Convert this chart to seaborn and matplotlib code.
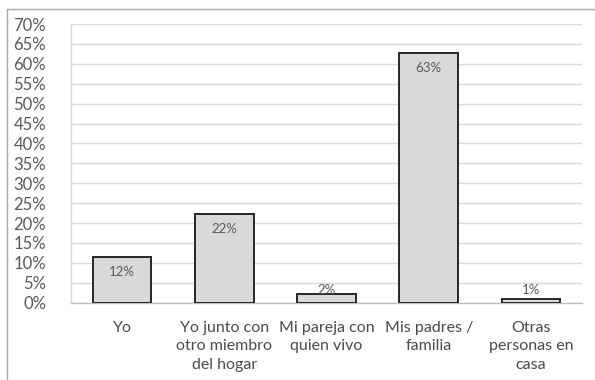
import matplotlib
matplotlib.use("Agg")
import matplotlib.pyplot as plt
from matplotlib.lines import Line2D
from matplotlib.ticker import MultipleLocator, FuncFormatter
import seaborn as sns
import pandas as pd

categories = [
    "Yo",
    "Yo junto con\notro miembro\ndel hogar",
    "Mi pareja con\nquien vivo",
    "Mis padres /\nfamilia",
    "Otras\npersonas en\ncasa",
]
shares = [11.6, 22.4, 2.1, 62.8, 0.9]

df = pd.DataFrame({"categoria": categories, "porcentaje": shares})

sns.set_theme(style="white")
plt.rcParams["font.family"] = ["Lato", "DejaVu Sans"]

fig = plt.figure(figsize=(5.95, 3.8), dpi=100)
ax = fig.add_axes([71 / 595, (380 - 302.7) / 380, (582 - 71) / 595, (302.7 - 24) / 380])

sns.barplot(
    data=df, x="categoria", y="porcentaje", ax=ax,
    color="#d9d9d9", edgecolor="#262626", linewidth=1.4,
    width=0.575, saturation=1, zorder=3,
)

ax.set_ylim(0, 70)
ax.set_xlim(-0.5, len(categories) - 0.5)
ax.yaxis.set_major_locator(MultipleLocator(5))
ax.yaxis.set_major_formatter(FuncFormatter(lambda v, _: f"{v:.0f}%"))
ax.grid(axis="y", color="#d9d9d9", linewidth=1.0, zorder=0)
ax.set_axisbelow(True)
ax.set_xlabel("")
ax.set_ylabel("")

for side in ("top", "right"):
    ax.spines[side].set_visible(False)
ax.spines["left"].set_color("#d9d9d9")
ax.spines["bottom"].set_color("#bfbfbf")
ax.spines["left"].set_linewidth(1.0)
ax.spines["bottom"].set_linewidth(1.0)

ax.tick_params(axis="y", length=0, pad=18, labelsize=12, labelcolor="#595959")
ax.tick_params(axis="x", length=0, pad=13, labelsize=11.5, labelcolor="#4a4a4a")
for lab in ax.get_xticklabels():
    lab.set_linespacing(1.42)
    lab.set_multialignment("center")

# value labels sit inside the top of each bar, kept above the baseline
px_per_unit = (302.7 - 24) / 70
for i, v in enumerate(shares):
    top_px = v * px_per_unit
    y_px = max(top_px - 15, 12.5)
    ax.text(i, y_px / px_per_unit, f"{v:.0f}%", ha="center", va="center",
            fontsize=9.5, color="#595959", zorder=4)

# chart frame
frame_kw = dict(color="#a6a6a6", linewidth=1.0, transform=fig.transFigure)
fig.add_artist(Line2D([7 / 595, 1], [1 - 9 / 380, 1 - 9 / 380], **frame_kw))
fig.add_artist(Line2D([7 / 595, 7 / 595], [0, 1 - 9 / 380], **frame_kw))

fig.savefig("out.png", dpi=100)
